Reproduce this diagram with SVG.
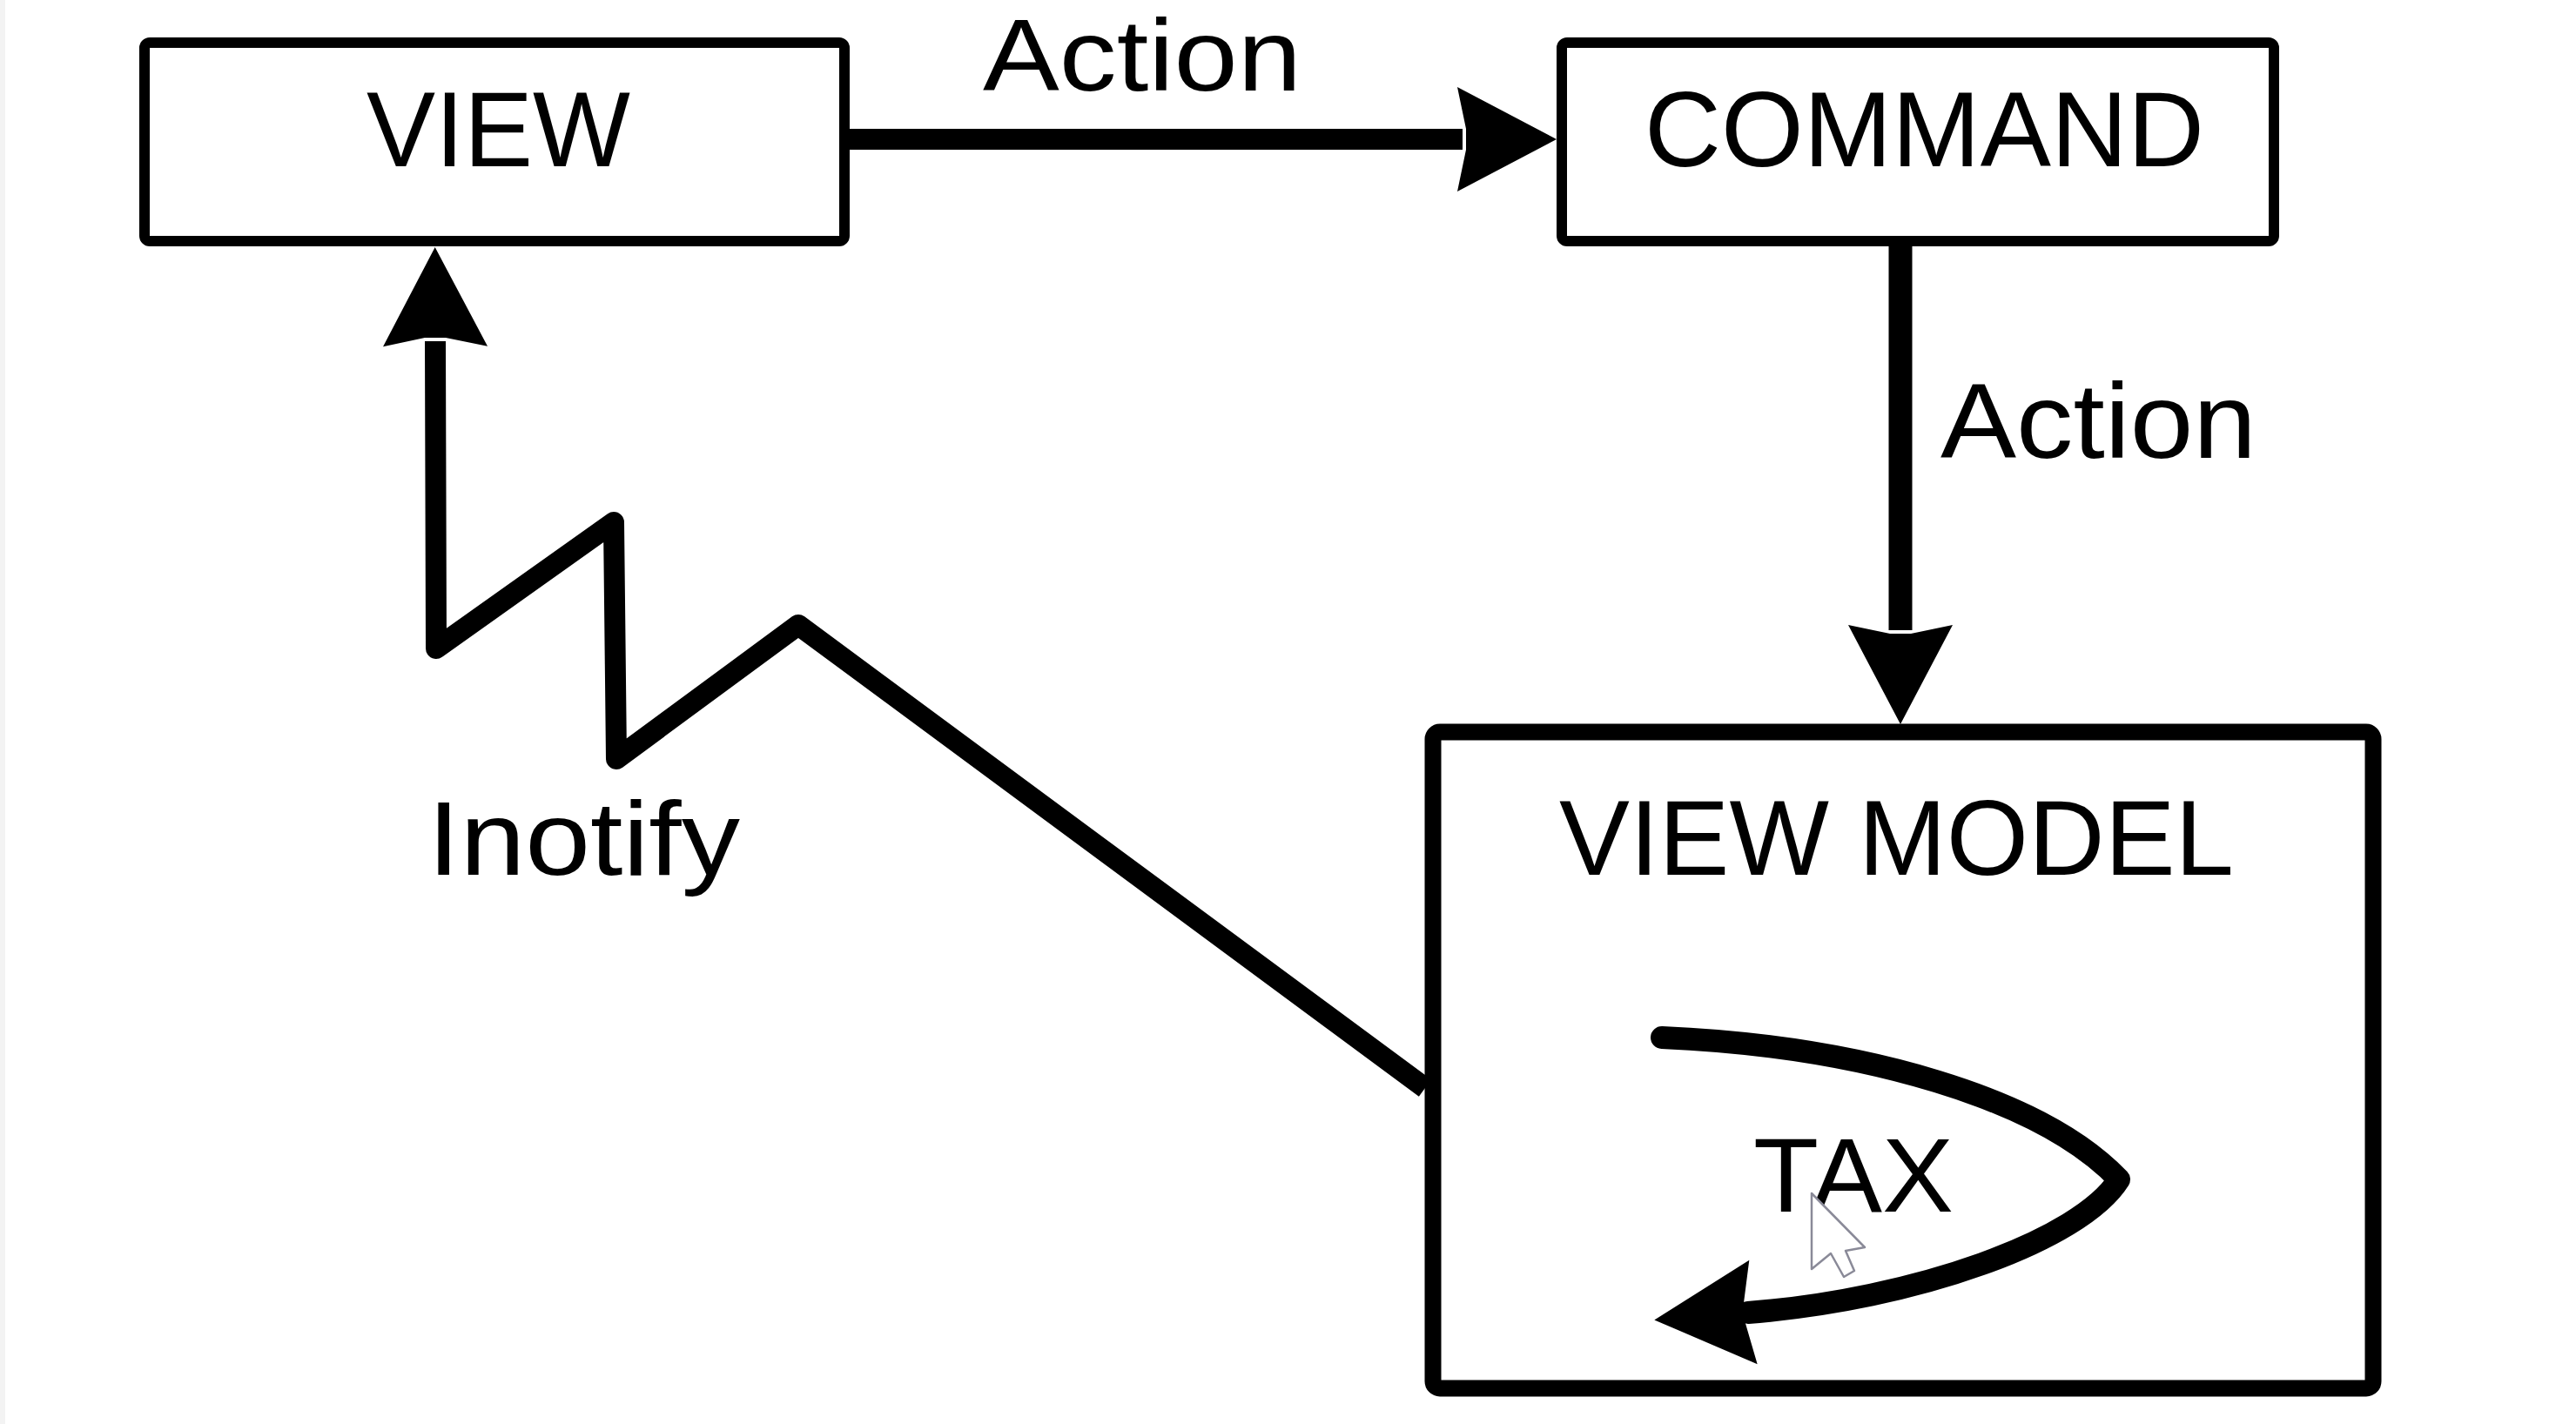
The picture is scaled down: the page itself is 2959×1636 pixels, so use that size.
<svg xmlns="http://www.w3.org/2000/svg" width="2959" height="1636" viewBox="0 0 2959 1636">
  <style>
    .box { fill: #ffffff; stroke: #000000; }
    .lbl { font-family: "Liberation Sans", Arial, sans-serif; fill: #000000; }
    .conn { fill: none; stroke: #000000; stroke-linejoin: round; }
  </style>
  <defs>
    <marker id="arrow" markerUnits="userSpaceOnUse" orient="auto" refX="0" refY="0" markerWidth="240" markerHeight="240" style="overflow:visible">
      <path d="M108,0 L-6,-60 L4,-12 L4,12 L-6,60 Z" fill="#000000"/>
    </marker>
  </defs>
  <rect x="0" y="0" width="2959" height="1636" fill="#ffffff"/>
  <rect x="0" y="0" width="6" height="1636" fill="#f3f3f3"/>

  <g id="node-view">
    <rect class="box" x="166" y="49" width="804" height="228" rx="6" stroke-width="12"/>
    <text class="lbl" x="421" y="191" font-size="123" textLength="303" lengthAdjust="spacingAndGlyphs">VIEW</text>
  </g>

  <g id="node-command">
    <rect class="box" x="1794" y="49" width="818" height="228" rx="6" stroke-width="12"/>
    <text class="lbl" x="1889" y="191" font-size="123" textLength="643" lengthAdjust="spacingAndGlyphs">COMMAND</text>
  </g>

  <g id="node-viewmodel">
    <rect class="box" x="1646" y="841" width="1080" height="754" rx="8" stroke-width="19"/>
    <text class="lbl" x="1791" y="1005" font-size="122" textLength="775" lengthAdjust="spacingAndGlyphs">VIEW MODEL</text>
    <text class="lbl" x="2014" y="1392" font-size="120" textLength="230" lengthAdjust="spacingAndGlyphs">TAX</text>
  </g>

  <g id="connectors">
    <line class="conn" x1="976" y1="160" x2="1680" y2="160" stroke-width="24" marker-end="url(#arrow)"/>
    <text class="lbl" x="1129" y="104" font-size="116" textLength="366" lengthAdjust="spacingAndGlyphs">Action</text>

    <line class="conn" x1="2183" y1="282" x2="2183" y2="724" stroke-width="27" marker-end="url(#arrow)"/>
    <text class="lbl" x="2229" y="526" font-size="123" textLength="363" lengthAdjust="spacingAndGlyphs">Action</text>

    <polyline class="conn" points="1637,1250 917,718 708,872 705,600 501,745 500,392" stroke-width="24" marker-end="url(#arrow)"/>
    <text class="lbl" x="491" y="1005" font-size="120" textLength="359" lengthAdjust="spacingAndGlyphs">Inotify</text>

    <path class="conn" d="M1909,1192 C2140,1202 2345,1262 2434,1355 C2390,1425 2200,1493 2008,1508" stroke-width="26" stroke-linecap="round" marker-end="url(#arrow)"/>
  </g>

  <path d="M2081,1371 L2081,1458 L2103,1440 L2118,1467 L2130,1460 L2120,1437 L2142,1433 Z" fill="#ffffff" stroke="#8a8a98" stroke-width="2.5" stroke-linejoin="round"/>
</svg>
